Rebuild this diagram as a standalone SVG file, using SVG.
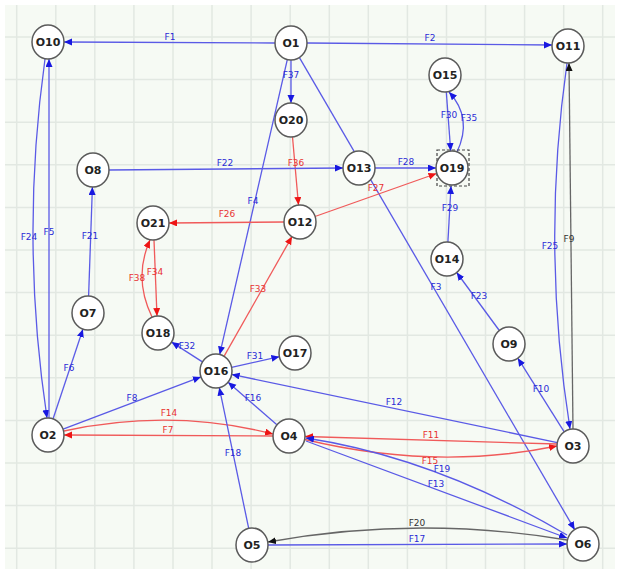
<svg xmlns="http://www.w3.org/2000/svg" width="620" height="569" viewBox="0 0 620 569">
<style>
.bg{fill:#f6faf4}
.grid line{stroke:#e2e8e2;stroke-width:1.5}
.node ellipse{fill:#fff;stroke:#5a5a5a;stroke-width:1.5}
.node text{font-family:"DejaVu Sans",Verdana,sans-serif;font-size:11px;font-weight:bold;fill:#222;text-anchor:middle}
.e{fill:none;stroke-width:1.3}
.b{stroke:#5a5ae6}
.r{stroke:#f05a5a}
.k{stroke:#666}
.lb{font-family:"DejaVu Sans",Verdana,sans-serif;font-size:9px;text-anchor:middle}
.lbb{fill:#2b2bd6}
.lbr{fill:#e83232}
.lbk{fill:#333}
</style>
<defs>
<marker id="aB" markerUnits="userSpaceOnUse" markerWidth="9" markerHeight="8" refX="8" refY="3.5" orient="auto"><path d="M0,0 L8,3.5 L0,7 z" fill="#1818e0"/></marker>
<marker id="aR" markerUnits="userSpaceOnUse" markerWidth="9" markerHeight="8" refX="8" refY="3.5" orient="auto"><path d="M0,0 L8,3.5 L0,7 z" fill="#ee1515"/></marker>
<marker id="aK" markerUnits="userSpaceOnUse" markerWidth="9" markerHeight="8" refX="8" refY="3.5" orient="auto"><path d="M0,0 L8,3.5 L0,7 z" fill="#111"/></marker>
</defs>
<rect width="620" height="569" fill="#fff"/>
<rect class="bg" x="5" y="5" width="610" height="564"/>
<g class="grid">
<line x1="16.7" y1="5" x2="16.7" y2="569"/><line x1="55.8" y1="5" x2="55.8" y2="569"/><line x1="94.8" y1="5" x2="94.8" y2="569"/><line x1="133.9" y1="5" x2="133.9" y2="569"/><line x1="173" y1="5" x2="173" y2="569"/><line x1="212" y1="5" x2="212" y2="569"/><line x1="251.1" y1="5" x2="251.1" y2="569"/><line x1="290.2" y1="5" x2="290.2" y2="569"/><line x1="329.3" y1="5" x2="329.3" y2="569"/><line x1="368.3" y1="5" x2="368.3" y2="569"/><line x1="407.4" y1="5" x2="407.4" y2="569"/><line x1="446.5" y1="5" x2="446.5" y2="569"/><line x1="485.5" y1="5" x2="485.5" y2="569"/><line x1="524.6" y1="5" x2="524.6" y2="569"/><line x1="563.7" y1="5" x2="563.7" y2="569"/><line x1="602.7" y1="5" x2="602.7" y2="569"/>
<line x1="5" y1="37" x2="615" y2="37"/><line x1="5" y1="79.6" x2="615" y2="79.6"/><line x1="5" y1="122.2" x2="615" y2="122.2"/><line x1="5" y1="164.8" x2="615" y2="164.8"/><line x1="5" y1="207.4" x2="615" y2="207.4"/><line x1="5" y1="250" x2="615" y2="250"/><line x1="5" y1="292.6" x2="615" y2="292.6"/><line x1="5" y1="335.2" x2="615" y2="335.2"/><line x1="5" y1="377.8" x2="615" y2="377.8"/><line x1="5" y1="420.4" x2="615" y2="420.4"/><line x1="5" y1="463" x2="615" y2="463"/><line x1="5" y1="505.6" x2="615" y2="505.6"/><line x1="5" y1="548.2" x2="615" y2="548.2"/>
</g>
<g id="connectors">
<path id="F1" class="e b" d="M275,43 L64,42" marker-end="url(#aB)"/>
<path id="F2" class="e b" d="M307,43 L552,45" marker-end="url(#aB)"/>
<path id="F37" class="e b" d="M291,60 L291,103" marker-end="url(#aB)"/>
<path id="F36" class="e r" d="M292.5,137 L298.5,205" marker-end="url(#aR)"/>
<path id="F4" class="e b" d="M287.3,59.6 L219.7,354.4" marker-end="url(#aB)"/>
<path id="F3" class="e b" d="M299.3,57.3 L574.7,529.7" marker-end="url(#aB)"/>
<path id="F22" class="e b" d="M109,170 L343,168" marker-end="url(#aB)"/>
<path id="F28" class="e b" d="M375,168 L436,168" marker-end="url(#aB)"/>
<path id="F27" class="e r" d="M315,216.5 L436.5,173.5" marker-end="url(#aR)"/>
<path id="F30" class="e b" d="M446.3,92 L450.7,151" marker-end="url(#aB)"/>
<path id="F35" class="e b" d="M457,152 Q473,118 449,92" marker-end="url(#aB)"/>
<path id="F29" class="e b" d="M447.9,242 L451,186" marker-end="url(#aB)"/>
<path id="F23" class="e b" d="M499.3,330.5 L456.7,272.5" marker-end="url(#aB)"/>
<path id="F10" class="e b" d="M564.2,431.8 L517.8,358.2" marker-end="url(#aB)"/>
<path id="F25" class="e b" d="M567,63 Q541,246 570,429" marker-end="url(#aB)"/>
<path id="F9" class="e k" d="M573,429 L569,63" marker-end="url(#aK)"/>
<path id="F24" class="e b" d="M45,59 Q20,238 47,418" marker-end="url(#aB)"/>
<path id="F5" class="e b" d="M49,418 L49,59" marker-end="url(#aB)"/>
<path id="F21" class="e b" d="M88.6,296 L92.4,187" marker-end="url(#aB)"/>
<path id="F6" class="e b" d="M53.1,418.8 L82.9,329.2" marker-end="url(#aB)"/>
<path id="F8" class="e b" d="M63.1,429.1 L200.9,376.9" marker-end="url(#aB)"/>
<path id="F14" class="e r" d="M64,431 Q171,408 273,434" marker-end="url(#aR)"/>
<path id="F7" class="e r" d="M273,436 L64,435" marker-end="url(#aR)"/>
<path id="F16" class="e b" d="M276.9,424.8 L228.1,382.2" marker-end="url(#aB)"/>
<path id="F18" class="e b" d="M248.7,528.4 L219.3,387.6" marker-end="url(#aB)"/>
<path id="F12" class="e b" d="M557.3,442.6 L231.7,374.4" marker-end="url(#aB)"/>
<path id="F11" class="e r" d="M557,444 L305,436.5" marker-end="url(#aR)"/>
<path id="F15" class="e r" d="M305,439.5 Q435,471 557,446" marker-end="url(#aR)"/>
<path id="F13" class="e b" d="M306,441 L567,538" marker-end="url(#aB)"/>
<path id="F19" class="e b" d="M567,535 Q436,458 306,438" marker-end="url(#aB)"/>
<path id="F17" class="e b" d="M268,545 L567,544" marker-end="url(#aB)"/>
<path id="F20" class="e k" d="M567,540 Q416.5,515 268,542" marker-end="url(#aK)"/>
<path id="F31" class="e b" d="M231.6,367.3 L279.4,356.7" marker-end="url(#aB)"/>
<path id="F32" class="e b" d="M202.4,361.9 L171.6,342.1" marker-end="url(#aB)"/>
<path id="F33" class="e r" d="M224,356.4 L292,236.6" marker-end="url(#aR)"/>
<path id="F26" class="e r" d="M284,222 L169,223" marker-end="url(#aR)"/>
<path id="F34" class="e r" d="M154,240 L157,316" marker-end="url(#aR)"/>
<path id="F38" class="e r" d="M152,317 Q133,278 150,240" marker-end="url(#aR)"/>
</g>
<g id="edge-labels">
<text class="lb lbb" x="170" y="40">F1</text>
<text class="lb lbb" x="430" y="41">F2</text>
<text class="lb lbb" x="291" y="78">F37</text>
<text class="lb lbr" x="296" y="166">F36</text>
<text class="lb lbb" x="253" y="204">F4</text>
<text class="lb lbb" x="436" y="290">F3</text>
<text class="lb lbb" x="225" y="166">F22</text>
<text class="lb lbb" x="406" y="165">F28</text>
<text class="lb lbr" x="376" y="191">F27</text>
<text class="lb lbb" x="449" y="118">F30</text>
<text class="lb lbb" x="469" y="121">F35</text>
<text class="lb lbb" x="450" y="211">F29</text>
<text class="lb lbb" x="479" y="299">F23</text>
<text class="lb lbb" x="541" y="392">F10</text>
<text class="lb lbb" x="550" y="249">F25</text>
<text class="lb lbk" x="569" y="242">F9</text>
<text class="lb lbb" x="29" y="240">F24</text>
<text class="lb lbb" x="49" y="235">F5</text>
<text class="lb lbb" x="90" y="239">F21</text>
<text class="lb lbb" x="69" y="371">F6</text>
<text class="lb lbb" x="132" y="401">F8</text>
<text class="lb lbr" x="169" y="416">F14</text>
<text class="lb lbr" x="168" y="433">F7</text>
<text class="lb lbb" x="253" y="401">F16</text>
<text class="lb lbb" x="233" y="456">F18</text>
<text class="lb lbb" x="394" y="405">F12</text>
<text class="lb lbr" x="431" y="438">F11</text>
<text class="lb lbr" x="430" y="464">F15</text>
<text class="lb lbb" x="442" y="472">F19</text>
<text class="lb lbb" x="436" y="487">F13</text>
<text class="lb lbk" x="417" y="526">F20</text>
<text class="lb lbb" x="417" y="542">F17</text>
<text class="lb lbb" x="255" y="359">F31</text>
<text class="lb lbb" x="187" y="349">F32</text>
<text class="lb lbr" x="258" y="292">F33</text>
<text class="lb lbr" x="227" y="217">F26</text>
<text class="lb lbr" x="155" y="275">F34</text>
<text class="lb lbr" x="137" y="281">F38</text>
</g>
<rect id="selection" x="437" y="150" width="32" height="36" fill="none" stroke="#444" stroke-width="1.2" stroke-dasharray="3,2"/>
<g id="O1" class="node"><ellipse cx="291" cy="43" rx="16" ry="17"/><text x="291" y="47">O1</text></g>
<g id="O2" class="node"><ellipse cx="48" cy="435" rx="16" ry="17"/><text x="48" y="439">O2</text></g>
<g id="O3" class="node"><ellipse cx="573" cy="446" rx="16" ry="17"/><text x="573" y="450">O3</text></g>
<g id="O4" class="node"><ellipse cx="289" cy="436" rx="16" ry="17"/><text x="289" y="440">O4</text></g>
<g id="O5" class="node"><ellipse cx="252" cy="545" rx="16" ry="17"/><text x="252" y="549">O5</text></g>
<g id="O6" class="node"><ellipse cx="583" cy="544" rx="16" ry="17"/><text x="583" y="548">O6</text></g>
<g id="O7" class="node"><ellipse cx="88" cy="313" rx="16" ry="17"/><text x="88" y="317">O7</text></g>
<g id="O8" class="node"><ellipse cx="93" cy="170" rx="16" ry="17"/><text x="93" y="174">O8</text></g>
<g id="O9" class="node"><ellipse cx="509" cy="344" rx="16" ry="17"/><text x="509" y="348">O9</text></g>
<g id="O10" class="node"><ellipse cx="48" cy="42" rx="16" ry="17"/><text x="48" y="46">O10</text></g>
<g id="O11" class="node"><ellipse cx="568" cy="46" rx="16" ry="17"/><text x="568" y="50">O11</text></g>
<g id="O12" class="node"><ellipse cx="300" cy="222" rx="16" ry="17"/><text x="300" y="226">O12</text></g>
<g id="O13" class="node"><ellipse cx="359" cy="168" rx="16" ry="17"/><text x="359" y="172">O13</text></g>
<g id="O14" class="node"><ellipse cx="447" cy="259" rx="16" ry="17"/><text x="447" y="263">O14</text></g>
<g id="O15" class="node"><ellipse cx="445" cy="75" rx="16" ry="17"/><text x="445" y="79">O15</text></g>
<g id="O16" class="node"><ellipse cx="216" cy="371" rx="16" ry="17"/><text x="216" y="375">O16</text></g>
<g id="O17" class="node"><ellipse cx="295" cy="353" rx="16" ry="17"/><text x="295" y="357">O17</text></g>
<g id="O18" class="node"><ellipse cx="158" cy="333" rx="16" ry="17"/><text x="158" y="337">O18</text></g>
<g id="O19" class="node"><ellipse cx="452" cy="168" rx="16" ry="17"/><text x="452" y="172">O19</text></g>
<g id="O20" class="node"><ellipse cx="291" cy="120" rx="16" ry="17"/><text x="291" y="124">O20</text></g>
<g id="O21" class="node"><ellipse cx="153" cy="223" rx="16" ry="17"/><text x="153" y="227">O21</text></g>
</svg>
